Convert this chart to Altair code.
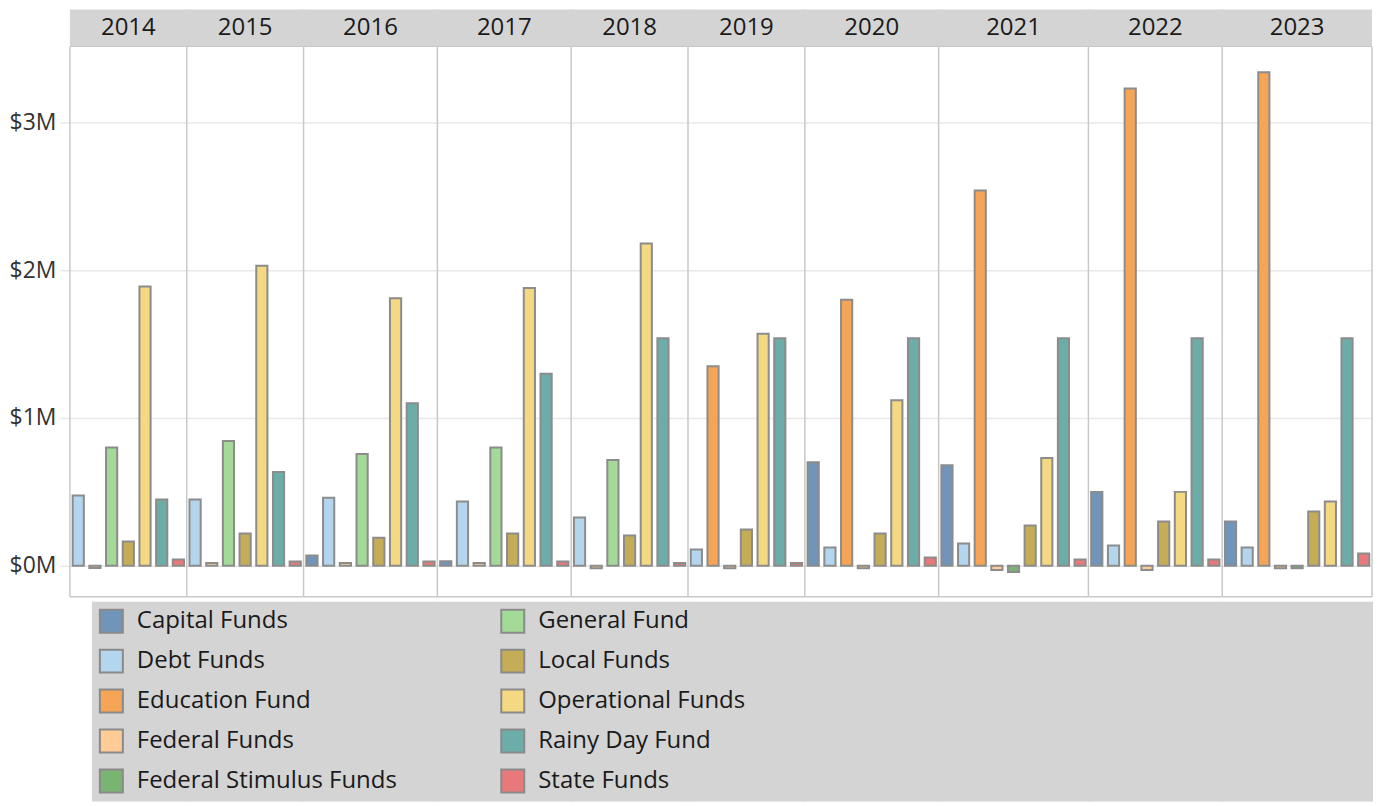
import altair as alt
import pandas as pd

# ---------------- data (values in $M) ----------------
years = [2014, 2015, 2016, 2017, 2018, 2019, 2020, 2021, 2022, 2023]
funds = ["Capital Funds", "Debt Funds", "Education Fund", "Federal Funds",
         "Federal Stimulus Funds", "General Fund", "Local Funds",
         "Operational Funds", "Rainy Day Fund", "State Funds"]
# None = fund has no record in that year
capital_funds = [None, None, 0.07, 0.03, None, None, 0.70, 0.68, 0.50, 0.30]
debt_funds = [0.475, 0.448, 0.46, 0.435, 0.326, 0.11, 0.124, 0.151, 0.137, 0.124]
education_fund = [None, None, None, None, None, 1.35, 1.80, 2.54, 3.23, 3.34]
federal_funds = [-0.015, 0.018, 0.018, 0.018, -0.016, -0.016, -0.016, -0.029, -0.029, -0.016]
federal_stimulus_funds = [None, None, None, None, None, None, None, -0.043, None, -0.016]
general_fund = [0.80, 0.845, 0.757, 0.80, 0.716, None, None, None, None, None]
local_funds = [0.164, 0.218, 0.19, 0.218, 0.205, 0.245, 0.218, 0.272, 0.30, 0.367]
operational_funds = [1.89, 2.03, 1.81, 1.88, 2.18, 1.57, 1.12, 0.73, 0.50, 0.435]
rainy_day_fund = [0.448, 0.635, 1.10, 1.30, 1.54, 1.54, 1.54, 1.54, 1.54, 1.54]
state_funds = [0.043, 0.029, 0.029, 0.029, 0.018, 0.018, 0.056, 0.043, 0.043, 0.083]

fund_colors = ["#7194b9", "#b3d5ed", "#f5a555", "#ffcb97", "#7ab472",
               "#a3da97", "#c5ad57", "#f4d882", "#6dada9", "#e7797a"]
y_ticks = [0, 1, 2, 3]

series = [capital_funds, debt_funds, education_fund, federal_funds,
          federal_stimulus_funds, general_fund, local_funds,
          operational_funds, rainy_day_fund, state_funds]

rows = []
for fund, vals in zip(funds, series):
    for yr, v in zip(years, vals):
        if v is not None:
            rows.append({"year": yr, "fund": fund, "value": v})
df = pd.DataFrame(rows)

# ---------------- layout constants ----------------
FONT = "Open Sans"
STEP = 16.7
HDR = 37          # header band height
PLOT_BOT = 588    # bottom of plot area (panel coords)
ZERO_Y, TOP_Y = 557, 113   # pixel rows of $0M and $3M
LEG_TOP = 593
H = 793
HDR_FILL = "#d4d4d4"
SEP = "#c8c8c8"
GRID = "#e8e8e8"

color_scale = alt.Scale(domain=funds, range=fund_colors)
legend = alt.Legend(
    title=None, orient="none", legendX=29, legendY=600, columns=2,
    columnPadding=100, rowPadding=9, gridAlign="all",
    symbolType="square", symbolSize=529, symbolStrokeColor="#8a8a8a",
    symbolStrokeWidth=2, symbolOpacity=1, labelFont=FONT, labelFontSize=24,
    labelColor="#1a1a1a", labelOffset=13, padding=0, labelLimit=400,
)

panels = []
for i, yr in enumerate(years):
    d = df[df["year"] == yr]
    n = len(d)
    w = round(n * STEP)
    first = i == 0
    last = i == len(years) - 1
    one = pd.DataFrame({"year": [str(yr)]})

    if first:
        yaxis = alt.Axis(values=y_ticks, labelExpr="'$' + datum.value + 'M'",
                         title=None, grid=True, gridColor=GRID, gridWidth=1.5,
                         domain=False, tickColor=GRID, tickSize=10, tickWidth=1.5,
                         labelFont=FONT, labelFontSize=23, labelColor="#333333",
                         labelPadding=4)
    else:
        yaxis = alt.Axis(values=y_ticks, title=None, grid=True, gridColor=GRID,
                         gridWidth=1.5, domain=False, ticks=False, labels=False)

    hdr = alt.Chart(one).mark_rect(color=HDR_FILL).encode(
        x=alt.value(0 if first else -1), x2=alt.value(w if last else w + 1),
        y=alt.value(0), y2=alt.value(HDR))
    leg_bg = alt.Chart(one).mark_rect(color=HDR_FILL).encode(
        x=alt.value(22 if first else -1), x2=alt.value(w + 1),
        y=alt.value(LEG_TOP), y2=alt.value(H))
    bars = alt.Chart(d).mark_bar(stroke="#8c8c8c", strokeWidth=2).encode(
        x=alt.X("fund:N", sort=funds, axis=None,
                scale=alt.Scale(paddingInner=0.33, paddingOuter=0.165)),
        y=alt.Y("value:Q", axis=yaxis,
                scale=alt.Scale(domain=[0, 3], range=[ZERO_Y, TOP_Y], nice=False)),
        color=alt.Color("fund:N", scale=color_scale, legend=legend),
    )
    vsep = alt.Chart(one).mark_rule(color=SEP, strokeWidth=1.5).encode(
        x=alt.value(0), y=alt.value(HDR), y2=alt.value(PLOT_BOT))
    bottom = alt.Chart(one).mark_rule(color=SEP, strokeWidth=1.5).encode(
        x=alt.value(0), x2=alt.value(w), y=alt.value(PLOT_BOT))
    hline = alt.Chart(one).mark_rule(color=SEP, strokeWidth=1).encode(
        x=alt.value(0), x2=alt.value(w), y=alt.value(HDR))
    text = alt.Chart(one).mark_text(font=FONT, fontSize=24, color="#1a1a1a").encode(
        text="year:N", x=alt.value(w / 2), y=alt.value(HDR / 2))

    layers = [hdr, leg_bg, bars, vsep, bottom, hline]
    if last:
        layers.append(alt.Chart(one).mark_rule(color=SEP, strokeWidth=1.5).encode(
            x=alt.value(w), y=alt.value(HDR), y2=alt.value(PLOT_BOT)))
    layers.append(text)
    panels.append(alt.layer(*layers).properties(width=w, height=H))

chart = (
    alt.hconcat(*panels, spacing=0, bounds="flush")
    .properties(padding=0)
    .configure(font=FONT)
    .configure_view(stroke="transparent")
)

chart.save("out.html", embed_options={"renderer": "svg", "actions": False})
